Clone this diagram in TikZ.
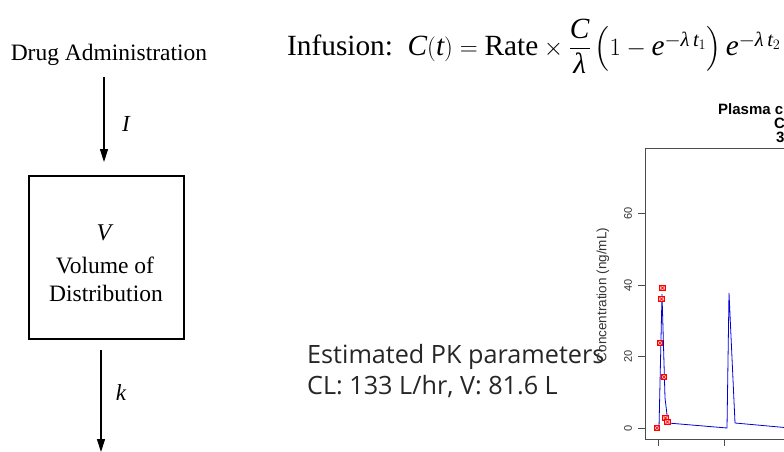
\documentclass[tikz,border=0pt]{standalone}
\usepackage{amsmath}
\usepackage{fontspec}
\setmainfont{Liberation Serif}
\newfontfamily\plotfont{Liberation Sans}
\newfontfamily\pkfont{Open Sans}
\usetikzlibrary{arrows.meta}
\tikzset{
  flow/.style={line width=1.3pt,-{Triangle[length=13pt,width=8pt]}},
  compbox/.style={draw,line width=2.6pt,minimum width=155pt,minimum height=163pt,inner sep=0pt},
  serif/.style={font=\fontsize{23.5}{27}\selectfont,inner sep=0pt},
  ticklab/.style={font=\plotfont\fontsize{11}{12}\selectfont,rotate=90,inner sep=0pt,text=black!80},
  mk/.style={draw=red,line width=0.8pt,fill=red!25},
  curve/.style={draw=blue!85!black,line width=0.8pt},
  ttl/.style={anchor=base west,inner sep=0pt,font=\plotfont\bfseries\fontsize{15}{17}\selectfont},
}
\newcommand{\pkmark}[2]{%
  \draw[mk] (#1-2.8,#2-2.8) rectangle (#1+2.8,#2+2.8);
  \draw[red,line width=0.5pt] (#1-2.8,#2-2.8) -- (#1+2.8,#2+2.8) (#1-2.8,#2+2.8) -- (#1+2.8,#2-2.8);}
\begin{document}
\begin{tikzpicture}[x=1pt,y=-1pt]
\useasboundingbox (0,0) rectangle (784,452);
\begin{scope}
\clip (0,0) rectangle (784,452);
% left compartment diagram
\node[serif] (drug) at (109,55) {Drug Administration};
\node[compbox] (box) at (106.5,257.5) {};
\node[serif,font=\fontsize{24}{27}\selectfont\itshape] (V) at (104,233) {V};
\node[serif] (vol) at (105,265) {Volume of};
\node[serif] (dist) at (106,293) {Distribution};
\coordinate (a1s) at (104,77);
\coordinate (a1e) at (104,162);
\coordinate (a2s) at (101,350);
\coordinate (a2e) at (101,452);
\draw[flow] (a1s) -- (a1e);
\draw[flow] (a2s) -- (a2e);
\node[serif,font=\fontsize{23}{25}\selectfont\itshape] (I) at (126,124) {I};
\node[serif,font=\fontsize{23}{25}\selectfont\itshape] (k) at (121,393) {k};
% formula
\node[anchor=west,inner sep=0pt,font=\fontsize{29.3}{34}\selectfont] (formula) at (287,46)
 {Infusion:\ \ $\textit{C}(\textit{t})=\textrm{Rate}\times\dfrac{\textit{C}}{\textit{λ}}\left(1-\textit{e}^{-\textit{λ}\,\textit{t}_1}\right)\textit{e}^{-\textit{λ}\,\textit{t}_2}$};
% PK text
\node[anchor=west,inner sep=0pt,font=\pkfont\fontsize{25.2}{29}\selectfont,text=black!85] (pk1) at (307,357) {Estimated PK parameters};
\node[anchor=west,inner sep=0pt,font=\pkfont\fontsize{25.2}{29}\selectfont,text=black!85] (pk2) at (307,387) {CL: 133 L/hr, V: 81.6 L};
% plot
\node[ttl] (title) at (718,114) {Plasma c};
\node[ttl] (title2) at (774,128) {C};
\node[ttl] (title3) at (776,142) {3};
\draw[black!70,line width=0.8pt] (800,148) -- (645,148) -- (645,439) -- (800,439);
\foreach \yy/\lab in {428/0,356.5/20,285/40,213.5/60}{
  \draw[black!70,line width=0.8pt] (638,\yy) -- (645,\yy);
  \node[ticklab] (t\lab) at (628,\yy) {\lab};
}
\foreach \xx in {658,724}{ \draw[black!70,line width=0.8pt] (\xx,439) -- (\xx,446); }
\node[ticklab,font=\plotfont\fontsize{13.5}{15}\selectfont] (ylab) at (603,295) {Concentration (ng/mL)};
\draw[curve] (659,428) -- (662,294) -- (665,398) -- (668,423) -- (727,428) -- (729,293) -- (735,423) -- (790,428);
\pkmark{657}{428}
\pkmark{660}{343}
\pkmark{661.5}{299}
\pkmark{662.5}{288}
\pkmark{664}{377}
\pkmark{665.5}{418}
\pkmark{667.5}{422}
\end{scope}
\end{tikzpicture}
\end{document}
